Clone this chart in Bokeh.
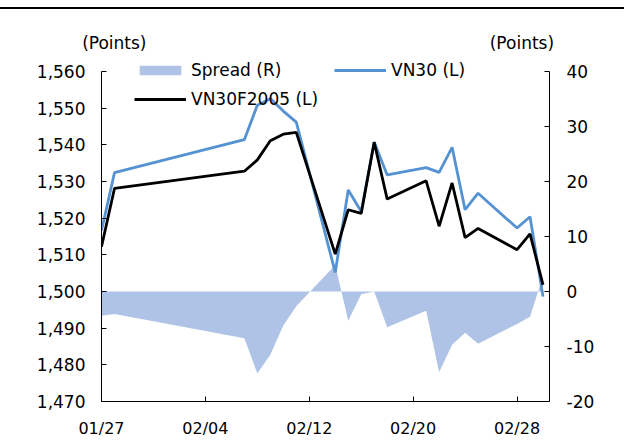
import pandas as pd
from bokeh.plotting import figure
from bokeh.models import (Range1d, LinearAxis, FixedTicker, NumeralTickFormatter,
                          DatetimeTickFormatter, Legend, LegendItem, CustomJSTickFormatter,
                          ColumnDataSource)
from bokeh.embed import file_html
from bokeh.resources import INLINE

# ---------------- data ----------------
dates = ["2020-01-27", "2020-01-28", "2020-02-07", "2020-02-08", "2020-02-09",
         "2020-02-10", "2020-02-11", "2020-02-14", "2020-02-15", "2020-02-16",
         "2020-02-17", "2020-02-18", "2020-02-21", "2020-02-22", "2020-02-23",
         "2020-02-24", "2020-02-25", "2020-02-28", "2020-02-29", "2020-03-01"]
vn30 = [1516.6, 1532.4, 1541.4, 1550.8, 1552.6, 1549.2, 1546.2, 1505.2, 1527.7, 1521.8,
        1540.8, 1531.8, 1533.8, 1532.5, 1539.3, 1522.3, 1526.8, 1517.3, 1520.4, 1498.6]
vn30f2005 = [1512.2, 1528.1, 1532.8, 1535.9, 1541.1, 1542.9, 1543.4, 1510.2, 1522.3, 1521.3,
             1540.7, 1525.2, 1530.2, 1517.8, 1529.6, 1514.7, 1517.2, 1511.4, 1515.7, 1501.8]
spread = [-4.4, -4.1, -8.5, -14.9, -11.5, -6.2, -2.7, 4.8, -5.3, -0.5,
          0.0, -6.5, -3.5, -14.7, -9.7, -7.5, -9.5, -5.9, -4.6, 2.8]
x_tick_dates = ["2020-01-27", "2020-02-04", "2020-02-12", "2020-02-20", "2020-02-28"]
left_ticks = [1470, 1480, 1490, 1500, 1510, 1520, 1530, 1540, 1550, 1560]
right_ticks = [-20, -10, 0, 10, 20, 30, 40]
labels = ["Spread (R)", "VN30 (L)", "VN30F2005 (L)"]
unit_label = "(Points)"

FONT = "DejaVu Sans"
FS = "17px"
FSX = "16px"
BLUE = "#5592D2"
AREA = "#AFC3E6"

# layout (pixels)
TOP_GAP = 7            # white space above the rule
RULE = 2               # rule thickness
FIG_W, FIG_H = 624, 443 - TOP_GAP - RULE
TOP_BORDER = 47        # room for the "(Points)" captions
PLOT_PX = 330          # height of the axis span (1470..1560)
HEAD_PX = 15           # frame space above the axis span (legend row)
BOTTOM = FIG_H - TOP_BORDER - PLOT_PX - HEAD_PX
FRAME_W = FIG_W - 101 - 75

x = pd.to_datetime(dates)
src = ColumnDataSource(dict(x=x, vn30=vn30, f=vn30f2005, spread=spread,
                            zero=[0] * len(dates)))

x_start = pd.Timestamp(x_tick_dates[0])
x_end = x_start + pd.Timedelta(hours=34.5 * 24)

l_lo, l_hi = left_ticks[0], left_ticks[-1]
r_lo, r_hi = right_ticks[0], right_ticks[-1]
l_top = l_hi + (l_hi - l_lo) * HEAD_PX / PLOT_PX
r_top = r_hi + (r_hi - r_lo) * HEAD_PX / PLOT_PX

p = figure(width=FIG_W, height=FIG_H, output_backend="svg", toolbar_location=None,
           x_axis_type="datetime",
           x_range=Range1d(x_start, x_end),
           y_range=Range1d(l_lo, l_top),
           min_border_left=101, min_border_right=75, min_border_top=TOP_BORDER,
           min_border_bottom=BOTTOM,
           styles={"margin-top": f"{TOP_GAP}px", "border-top": f"{RULE}px solid black"})
p.extra_y_ranges = {"right": Range1d(r_lo, r_top)}
p.extra_x_ranges = {"px": Range1d(0, FRAME_W)}
p.outline_line_color = None
p.xgrid.visible = False
p.ygrid.visible = False
p.background_fill_color = "white"
p.border_fill_color = "white"

area = p.varea(x="x", y1="zero", y2="spread", source=src, fill_color=AREA,
               y_range_name="right")
l_vn30 = p.line(x="x", y="vn30", source=src, line_color=BLUE, line_width=2.8)
l_f = p.line(x="x", y="f", source=src, line_color="black", line_width=2.8)

def style_axis(ax):
    ax.axis_line_color = "black"
    ax.axis_line_width = 1
    ax.major_tick_line_color = "black"
    ax.major_tick_in = 5
    ax.major_tick_out = 0
    ax.minor_tick_line_color = None
    ax.major_label_text_font = FONT
    ax.major_label_text_font_size = FS
    ax.major_label_text_color = "black"

xa = p.xaxis[0]
xa.ticker = FixedTicker(ticks=[pd.Timestamp(d).value / 1e6 for d in x_tick_dates])
xa.formatter = DatetimeTickFormatter(days="%m/%d", months="%m/%d")
style_axis(xa)
xa.major_label_text_font_size = FSX
xa.major_label_standoff = 17

ya = p.yaxis[0]
ya.ticker = FixedTicker(ticks=left_ticks)
ya.formatter = NumeralTickFormatter(format="0,0")
ya.bounds = (l_lo, l_hi)
style_axis(ya)
ya.major_label_standoff = 16

ra = LinearAxis(y_range_name="right", ticker=FixedTicker(ticks=right_ticks),
                formatter=NumeralTickFormatter(format="0"))
ra.bounds = (r_lo, r_hi)
style_axis(ra)
ra.major_label_standoff = 17
p.add_layout(ra, "right")

# "(Points)" captions above both value axes
cap = LinearAxis(x_range_name="px", ticker=FixedTicker(ticks=[12.8, FRAME_W - 27.6]),
                 formatter=CustomJSTickFormatter(code=f"return {unit_label!r};"))
style_axis(cap)
cap.axis_line_color = None
cap.major_tick_line_color = None
cap.major_tick_in = 0
cap.major_label_standoff = 4
p.add_layout(cap, "above")

legend = Legend(items=[LegendItem(label=labels[0], renderers=[area]),
                       LegendItem(label=labels[1], renderers=[l_vn30]),
                       LegendItem(label=labels[2], renderers=[l_f])],
                orientation="horizontal", ncols=2,
                location=(33, 292),
                glyph_width=52, glyph_height=12, label_standoff=5,
                label_width=134, label_height=20, spacing=9,
                padding=0, margin=0,
                border_line_color=None, background_fill_alpha=0,
                label_text_font=FONT, label_text_font_size=FS, label_text_color="black")
p.add_layout(legend, "center")

open("out.html", "w").write(file_html(p, INLINE))
